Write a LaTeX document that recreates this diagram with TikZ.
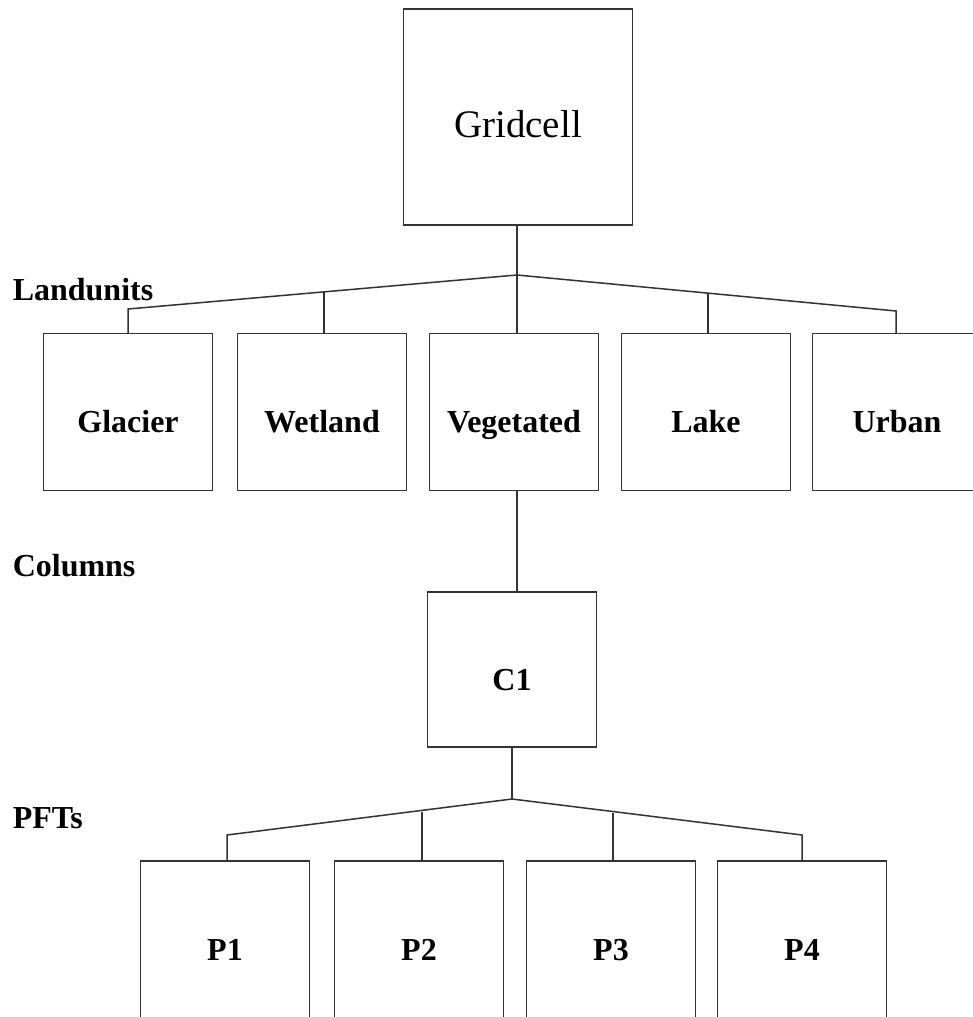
\documentclass[tikz,border=0pt]{standalone}
\usepackage{fontspec}
\setmainfont{Liberation Serif}
\usetikzlibrary{positioning}

\begin{document}
\begin{tikzpicture}[x=1pt, y=-1pt, line width=1.5pt, draw=black!80,
    box/.style={rectangle, draw, minimum width=169pt, minimum height=157pt, inner sep=0pt, text height=41pt, text depth=0pt, font=\fontsize{32}{32}\selectfont\bfseries},
    level/.style={anchor=base west, inner sep=0pt, font=\fontsize{32}{32}\selectfont\bfseries}]
    \useasboundingbox (0,0) rectangle (973,1017);

    % Nodes
    \node (grid) [box, minimum width=229pt, minimum height=216pt, font=\fontsize{39}{39}\selectfont] at (518,117) {Gridcell};

    \node (landlbl) [level] at (12,300) {Landunits};
    \node (glacier) [box] at (128,412) {Glacier};
    \node (wetland) [box] at (322,412) {Wetland};
    \node (veg) [box] at (514,412) {Vegetated};
    \node (lake) [box] at (706,412) {Lake};
    \node (urban) [box] at (897,412) {Urban};

    \node (collbl) [level] at (12,576) {Columns};
    \node (c1) [box, minimum height=155pt] at (512,669.5) {C1};

    \node (pftlbl) [level] at (12,828) {PFTs};
    \node (p1) [box] at (225,939.5) {P1};
    \node (p2) [box] at (419,939.5) {P2};
    \node (p3) [box] at (611,939.5) {P3};
    \node (p4) [box] at (802,939.5) {P4};

    % Branch points
    \coordinate (lj) at (517,275);
    \coordinate (gl-t) at (128,309);
    \coordinate (wl-t) at (324,292);
    \coordinate (lk-t) at (708,293);
    \coordinate (ub-t) at (896,311);
    \coordinate (pj) at (512,799);
    \coordinate (p1-t) at (227,835);
    \coordinate (p2-t) at (422,812);
    \coordinate (p3-t) at (613,813);
    \coordinate (p4-t) at (802,835);

    % Edges
    \draw (lj |- grid.south) -- (lj) -- (lj |- veg.north);
    \draw (gl-t |- glacier.north) -- (gl-t) -- (lj) -- (ub-t) -- (ub-t |- urban.north);
    \draw (wl-t) -- (wl-t |- wetland.north);
    \draw (lk-t) -- (lk-t |- lake.north);
    \draw (lj |- veg.south) -- (lj |- c1.north);
    \draw (c1.south) -- (pj);
    \draw (p1-t |- p1.north) -- (p1-t) -- (pj) -- (p4-t) -- (p4-t |- p4.north);
    \draw (p2-t) -- (p2-t |- p2.north);
    \draw (p3-t) -- (p3-t |- p3.north);
\end{tikzpicture}
\end{document}
